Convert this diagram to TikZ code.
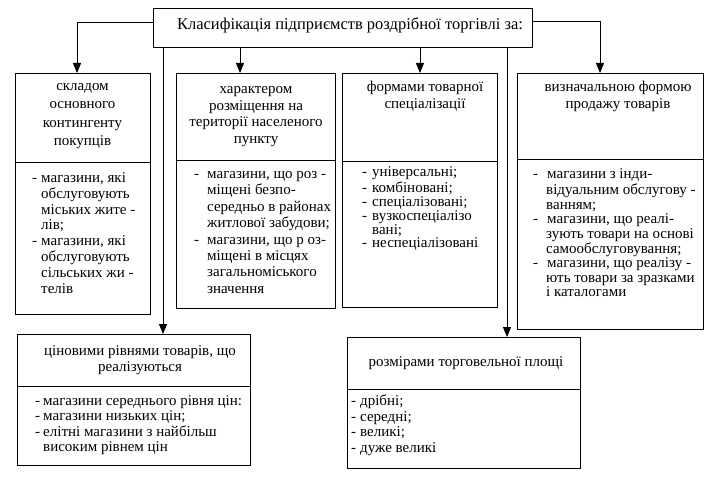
\documentclass[tikz,border=0pt]{standalone}
\usepackage{fontspec}
\setmainfont{Liberation Serif}
\usetikzlibrary{arrows.meta}
\newcommand\dsh[1]{\makebox[#1][l]{-}}
\newcommand\cnt[1]{\hspace*{#1}}
\tikzset{
  box/.style={draw, line width=0.9pt, inner sep=0, anchor=north west},
  arr/.style={line width=0.9pt, -{Triangle[length=10pt,width=8pt]}},
  hdr/.style={inner sep=0, align=center, anchor=north},
  lst/.style={inner sep=0, align=left, anchor=north west},
}
\newcommand\fs[2]{\fontsize{#1}{#2}\selectfont}
\begin{document}
\begin{tikzpicture}[x=1pt,y=-1pt]
\useasboundingbox[fill=white] (0,0) rectangle (720,487);
% title
\node[box, minimum width=379pt, minimum height=39pt] (title) at (153,8) {};
\node[inner sep=0, anchor=base, font=\fs{16.5}{18}] (tt) at (350,29.5) {Класифікація підприємств роздрібної торгівлі за:};
% boxes
\node[box, minimum width=135pt, minimum height=89pt] (b1h) at (15,73) {};
\node[box, minimum width=135pt, minimum height=152pt] (b1l) at (15,162) {};
\node[box, minimum width=159pt, minimum height=87pt] (b2h) at (176,73) {};
\node[box, minimum width=159pt, minimum height=148pt] (b2l) at (176,160) {};
\node[box, minimum width=155pt, minimum height=88pt] (b3h) at (342,73) {};
\node[box, minimum width=155pt, minimum height=146pt] (b3l) at (342,161) {};
\node[box, minimum width=186pt, minimum height=86pt] (b4h) at (517,73) {};
\node[box, minimum width=186pt, minimum height=170pt] (b4l) at (517,159) {};
\node[box, minimum width=233pt, minimum height=52pt] (b5h) at (17,334) {};
\node[box, minimum width=233pt, minimum height=79pt] (b5l) at (17,386) {};
\node[box, minimum width=233pt, minimum height=52pt] (b6h) at (347,337) {};
\node[box, minimum width=233pt, minimum height=79pt] (b6l) at (347,389) {};
% headers
\node[hdr, font=\fs{15}{18.3}] (t1) at (82.5,77.5) {\strut складом\\основного\\контингенту\\покупців};
\node[hdr, font=\fs{15}{16.7}] (t2) at (256,81.6) {\strut характером\\розміщення на\\території населеного\\пункту};
\node[hdr, font=\fs{15}{17}] (t3) at (425,79.4) {\strut формами товарної\\спеціалізації};
\node[hdr, font=\fs{15}{17}] (t4) at (618,79.4) {\strut визначальною формою\\продажу товарів};
\node[hdr, font=\fs{15}{16}] (t5) at (140,344) {\strut ціновими рівнями товарів, що\\реалізуються};
\node[inner sep=0, anchor=base, font=\fs{15}{16}] (t6) at (466,366.5) {розмірами торговельної площі};
% lists
\node[lst, font=\fs{15}{15.8}] (l1) at (32,171.2) {\strut\dsh{9pt}магазини, які\\\cnt{9pt}обслуговують\\\cnt{9pt}міських жите -\\\cnt{9pt}лів;\\\dsh{9pt}магазини, які\\\cnt{9pt}обслуговують\\\cnt{9pt}сільських жи -\\\cnt{9pt}телів};
\node[lst, font=\fs{15}{16.4}] (l2) at (194,166.8) {\strut\dsh{13pt}магазини, що роз -\\\cnt{13pt}міщені безпо-\\\cnt{13pt}середньо в районах\\\cnt{13pt}житлової забудови;\\\dsh{13pt}магазини, що р оз-\\\cnt{13pt}міщені в місцях\\\cnt{13pt}загальноміського\\\cnt{13pt}значення};
\node[lst, font=\fs{15}{13.8}] (l3) at (362,166.6) {\strut\dsh{10pt}універсальні;\\\dsh{10pt}комбіновані;\\\dsh{10pt}спеціалізовані;\\\dsh{10pt}вузкоспеціалізо\\\cnt{10pt}вані;\\\dsh{10pt}неспеціалізовані};
\node[lst, font=\fs{15}{14.6}] (l4) at (533,168.1) {\strut\dsh{14pt}магазини з інди-\\\cnt{13pt}відуальним обслугову -\\\cnt{13pt}ванням;\\\dsh{14pt}магазини, що реалі-\\\cnt{13pt}зують товари на основі\\\cnt{13pt}самообслуговування;\\\dsh{14pt}магазини, що реалізу -\\\cnt{13pt}ють товари за зразками\\\cnt{13pt}і каталогами};
\node[lst, font=\fs{15}{15.3}] (l5) at (35,394.6) {\strut\dsh{8pt}магазини середнього рівня цін:\\\dsh{8pt}магазини низьких цін;\\\dsh{8pt}елітні магазини з найбільш\\\cnt{8pt}високим рівнем цін};
\node[lst, font=\fs{15}{15.5}] (l6) at (351,394.5) {\strut\dsh{9pt}дрібні;\\\dsh{9pt}середні;\\\dsh{9pt}великі;\\\dsh{9pt}дуже великі};
% connectors
\coordinate (a1) at (77,22);
\coordinate (a2) at (240,0);
\coordinate (a4) at (600,21);
\coordinate (a5) at (163,0);
\coordinate (a6) at (507,0);
\draw[arr] (title.west |- a1) -| (b1h.north -| a1);
\draw[arr] (title.south -| a2) -- (b2h.north -| a2);
\draw[arr] (title.south -| b3h.north) -- (b3h.north);
\draw[arr] (title.east |- a4) -| (b4h.north -| a4);
\draw[arr] (title.south -| a5) -- (b5h.north -| a5);
\draw[arr] (title.south -| a6) -- (b6h.north -| a6);
\end{tikzpicture}
\end{document}
